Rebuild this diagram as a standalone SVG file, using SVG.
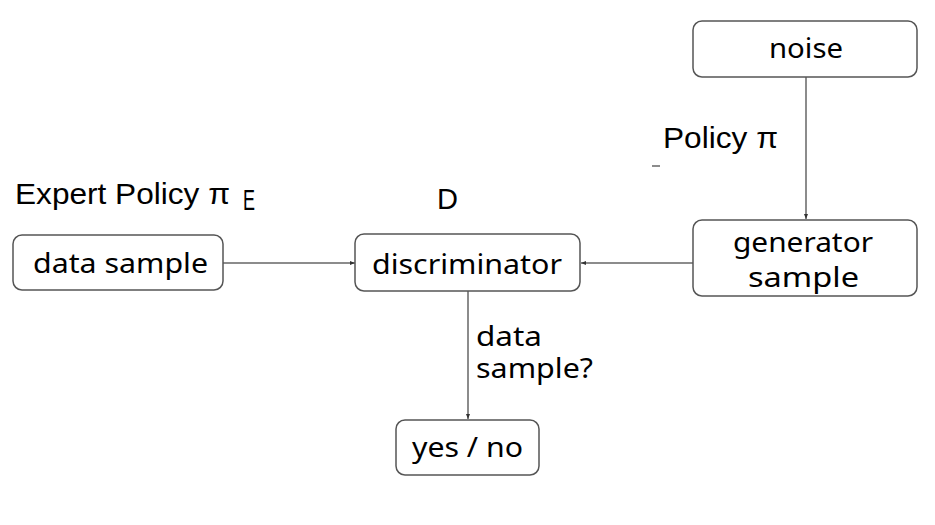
<svg xmlns="http://www.w3.org/2000/svg" width="935" height="525" viewBox="0 0 935 525">
<defs>
<style>
.box{fill:#fff;stroke:#555;stroke-width:1.5}
.lbl{font-family:"Noto Sans","Open Sans",sans-serif;font-size:28px;fill:#000;text-anchor:middle}
.cap{font-family:"Liberation Sans",Arial,sans-serif;font-size:29px;fill:#000}
.edge{stroke:#666;stroke-width:1.5;fill:none}
</style>
<marker id="ah" viewBox="0 0 10 10" refX="10" refY="5" markerWidth="5" markerHeight="5" orient="auto" markerUnits="userSpaceOnUse">
<path d="M0,1 L10,5 L0,9 z" fill="#333"/>
</marker>
</defs>
<rect width="935" height="525" fill="#fff"/>
<g id="connectors">
<line class="edge" x1="223" y1="263" x2="355" y2="263" marker-end="url(#ah)"/>
<line class="edge" x1="693" y1="263" x2="581" y2="263" marker-end="url(#ah)"/>
<line class="edge" x1="806" y1="77" x2="806" y2="219" marker-end="url(#ah)"/>
<line class="edge" x1="468" y1="291" x2="468" y2="419" marker-end="url(#ah)"/>
<text class="lbl" x="476" y="346" style="text-anchor:start" textLength="66" lengthAdjust="spacingAndGlyphs">data</text>
<text class="lbl" x="476" y="378" style="text-anchor:start" textLength="117" lengthAdjust="spacingAndGlyphs">sample?</text>
</g>
<g id="expert-label"><text class="cap" x="15" y="204" textLength="215" lengthAdjust="spacingAndGlyphs">Expert Policy π</text><text class="cap" x="243" y="210" font-size="21" textLength="12" lengthAdjust="spacingAndGlyphs">E</text></g>
<g id="d-label"><text class="cap" x="437" y="209" textLength="21" lengthAdjust="spacingAndGlyphs">D</text></g>
<g id="policy-label"><text class="cap" x="663" y="148" textLength="115" lengthAdjust="spacingAndGlyphs">Policy π</text>
<line x1="652" y1="166" x2="660" y2="166" stroke="#666" stroke-width="1.5"/></g>
<g id="data-sample"><rect class="box" x="13" y="235" width="210" height="55" rx="9"/><text class="lbl" x="120.5" y="273" textLength="175" lengthAdjust="spacingAndGlyphs">data sample</text></g>
<g id="discriminator"><rect class="box" x="355" y="234" width="225" height="57" rx="9"/><text class="lbl" x="467" y="274" textLength="190" lengthAdjust="spacingAndGlyphs">discriminator</text></g>
<g id="noise"><rect class="box" x="693" y="21" width="224" height="56" rx="9"/><text class="lbl" x="806" y="58" textLength="74" lengthAdjust="spacingAndGlyphs">noise</text></g>
<g id="generator"><rect class="box" x="693" y="220" width="224" height="76" rx="9"/><text class="lbl" x="803" y="252" textLength="140" lengthAdjust="spacingAndGlyphs">generator</text><text class="lbl" x="803.5" y="287" textLength="111" lengthAdjust="spacingAndGlyphs">sample</text></g>
<g id="yes-no"><rect class="box" x="396" y="420" width="143" height="55" rx="9"/><text class="lbl" x="467.5" y="457" textLength="111" lengthAdjust="spacingAndGlyphs">yes / no</text></g>
</svg>
